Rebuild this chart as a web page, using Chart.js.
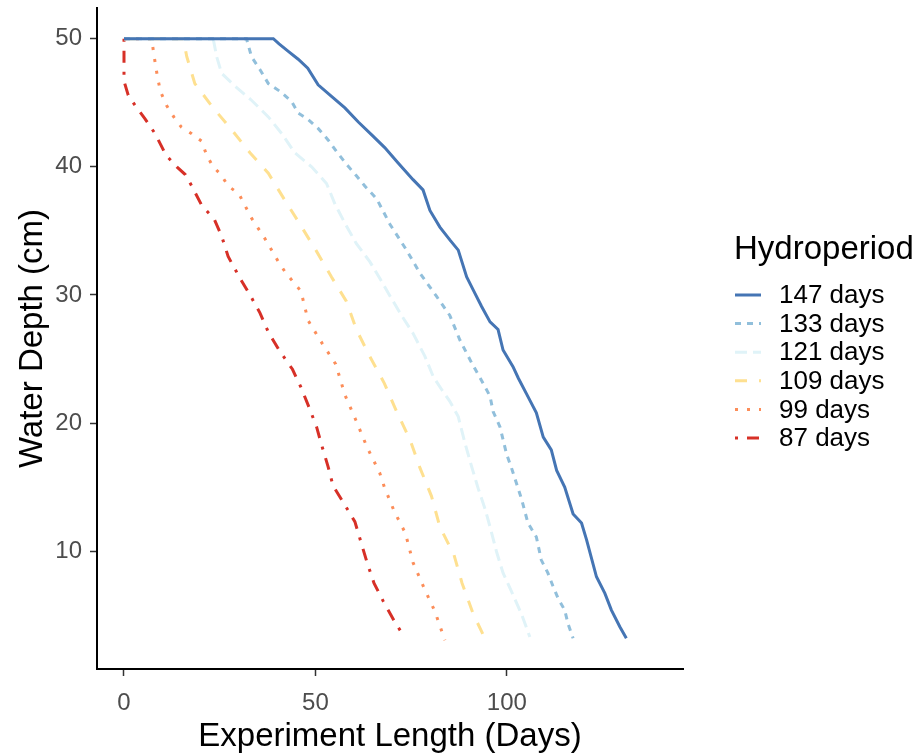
<!DOCTYPE html>
<html>
<head>
<meta charset="utf-8">
<script src="https://cdn.jsdelivr.net/npm/chart.js@4/dist/chart.umd.min.js"></script>
<style>
  html, body { margin: 0; padding: 0; background: #fff; }
  #wrap { width: 920px; height: 753px; }
</style>
</head>
<body>
<div id="wrap"><canvas id="depthChart"></canvas></div>
<script>
// series labels (legend order)
const seriesNames = ['147 days', '133 days', '121 days', '109 days', '99 days', '87 days'];

// day / depth pairs
const days147X = [0, 39, 40.5, 43, 45.5, 48, 50.7, 54.2, 57.7, 61.2, 64.7, 68.1, 71.6, 75.5, 78.1, 79.9, 82.5, 85.1, 87.3, 89.5, 91.2, 93.4, 95.6, 97.7, 99, 101.6, 103, 105.1, 107.7, 109.5, 111.6, 113, 115.1, 117.3, 119.5, 120.8, 123.4, 125.6, 127.3, 129.5, 131.2];
const days147Y = [50, 50, 49.6, 49, 48.4, 47.7, 46.4, 45.5, 44.6, 43.5, 42.5, 41.5, 40.3, 39, 38.2, 36.6, 35.3, 34.3, 33.5, 31.4, 30.4, 29.1, 27.9, 27.3, 25.7, 24.4, 23.5, 22.3, 20.8, 18.9, 17.9, 16.3, 15, 12.9, 12.2, 10.9, 8, 6.7, 5.4, 4.1, 3.2];

const days133X = [0, 32, 33.3, 35.5, 37.7, 40.7, 43.8, 45.5, 48.1, 50.7, 53.3, 55.5, 58.1, 60.7, 62.9, 66, 69.5, 73.8, 77.3, 81.6, 85.1, 87.7, 90.8, 93.6, 95.6, 96.4, 98.2, 99.9, 101.2, 102.5, 103.8, 105.5, 107.7, 109, 110.7, 112, 113.4, 115.1, 116, 117.3];
const days133Y = [50, 50, 48.6, 47.6, 46.5, 45.9, 45.1, 44.2, 43.7, 43, 42.1, 41.2, 40.2, 39.3, 38.5, 37.5, 35.5, 33.5, 31.7, 29.9, 28.4, 26.5, 24.7, 23.2, 22.1, 20.9, 19.7, 17.6, 16.5, 15.3, 14.1, 12.2, 11.1, 9.3, 8.3, 7.3, 6.3, 5.4, 4.3, 3.2];

const days121X = [0, 23.3, 24.2, 25.5, 29, 33.3, 37.7, 41.2, 44.6, 49, 52.9, 55.1, 57.7, 60.7, 64.2, 66.8, 69.7, 72.7, 75.5, 78.6, 80.8, 83, 85.1, 87.3, 89, 90.8, 92.5, 94.3, 95.6, 97.3, 99, 101.6, 103.8, 106];
const days121Y = [50, 50, 48.6, 47.3, 46.3, 45.2, 43.9, 42.6, 41.1, 40, 38.7, 37.1, 35.6, 34, 32.6, 31.3, 29.8, 28.3, 27, 25.2, 23.6, 22.6, 21.7, 20.5, 18.5, 16.6, 14.9, 13.3, 11.9, 9.95, 8.3, 6.6, 5.1, 3.3];

const days109X = [0, 15.5, 16.4, 18.5, 23.3, 28.1, 32.9, 37.7, 42, 46, 50.3, 54.2, 58.1, 60.7, 64.2, 68, 71.2, 74.7, 77.3, 80.3, 82.5, 86.2, 88.3, 91.2, 94.1];
const days109Y = [50, 50, 48.6, 46.5, 44.6, 42.9, 41.1, 39.5, 37.4, 35.5, 33.4, 31.4, 29.5, 27.3, 25.2, 23.1, 20.9, 18.7, 16.5, 14.3, 11.9, 9.7, 7.5, 5.1, 3.3];

const days99X = [0, 7.2, 8.1, 8.7, 9.5, 11.1, 13, 15, 17.6, 20.3, 21.6, 23.3, 25.3, 27.2, 30, 33.3, 36.8, 40.3, 42.3, 46.2, 48.1, 51.8, 55.3, 57.7, 60.6, 63.5, 66.8, 68, 70.6, 73.5, 75.5, 78.4, 81.2, 83.8];
const days99Y = [50, 50, 48.2, 47.1, 45.9, 44.8, 43.9, 43.1, 42.6, 42, 40.9, 40, 39.4, 38.5, 37.9, 36, 34.4, 32.6, 31.7, 30.3, 28, 26.2, 24.6, 22.2, 20.2, 18.1, 16.1, 15, 13.1, 11.4, 9.1, 7.1, 5.3, 3.05];

const days87X = [0, 0, 1.1, 2.9, 5.5, 8.1, 11, 13.8, 16, 17.7, 20.3, 23.6, 25.5, 27.2, 30.3, 33, 35.5, 37.7, 40.7, 44, 46.2, 48.1, 50.3, 51.6, 53.3, 54.6, 57.7, 60.3, 62, 63.5, 65.3, 67.7, 70.5, 73.2];
const days87Y = [50, 46.7, 45.6, 44.8, 43.75, 42.6, 40.9, 40, 39.4, 38.5, 37, 35.9, 34.6, 33, 31.3, 29.95, 28.6, 27.1, 25.6, 24.2, 22.8, 21.4, 19.7, 18.3, 16.6, 15.1, 13.6, 12.3, 10.6, 9.1, 7.5, 6.1, 4.6, 3.3];

const xTicks = [0, 50, 100];
const yTicks = [10, 20, 30, 40, 50];

const seriesX = [days147X, days133X, days121X, days109X, days99X, days87X];
const seriesY = [days147Y, days133Y, days121Y, days109Y, days99Y, days87Y];
const colors = ['#4575b4', '#91bfdb', '#e0f3f8', '#fee090', '#fc8d59', '#d73027'];
// ggplot linetypes: solid, 22, 42, 44, 13, 1343
const dashes = [[], [6, 6], [12, 6], [12, 12], [3, 9], [3, 9, 12, 9]];

const FONT = '"Liberation Sans", Arial, sans-serif';

const datasets = seriesNames.map((name, i) => ({
    label: name,
    data: seriesX[i].map((x, j) => ({ x: x, y: seriesY[i][j] })),
    borderColor: colors[i],
    backgroundColor: colors[i],
    borderWidth: 3,
    borderDash: dashes[i],
    borderCapStyle: 'butt',
    pointRadius: 0,
    showLine: true,
    tension: 0,
    fill: false
}));

// legend drawn by hand to get the ggplot look
const sideLegend = {
    id: 'sideLegend',
    afterDraw(chart) {
        const ctx = chart.ctx;
        ctx.save();
        ctx.fillStyle = '#000';
        ctx.textBaseline = 'middle';
        ctx.textAlign = 'left';
        ctx.font = '33px ' + FONT;
        ctx.fillText('Hydroperiod', 734, 250);
        ctx.font = '26px ' + FONT;
        chart.data.datasets.forEach((ds, i) => {
            const y = 295 + i * 28.6;
            ctx.strokeStyle = ds.borderColor;
            ctx.lineWidth = 3;
            ctx.lineCap = 'butt';
            ctx.setLineDash(ds.borderDash);
            ctx.beginPath();
            ctx.moveTo(735, y);
            ctx.lineTo(761, y);
            ctx.stroke();
            ctx.setLineDash([]);
            ctx.fillStyle = '#000';
            ctx.fillText(ds.label, 779, y + 1);
        });
        ctx.restore();
    }
};

// no extra room for half tick labels at the ends
function noEdgePadding(scale) {
    scale.paddingTop = 0;
    scale.paddingBottom = 0;
    scale.paddingLeft = 0;
    scale.paddingRight = 0;
}

new Chart(document.getElementById('depthChart'), {
    type: 'scatter',
    data: { datasets: datasets },
    options: {
        responsive: true,
        maintainAspectRatio: false,
        animation: false,
        layout: { padding: { top: 8, right: 237, left: 0, bottom: 0 } },
        plugins: {
            legend: { display: false },
            tooltip: { enabled: false }
        },
        scales: {
            x: {
                type: 'linear',
                min: -7.05,
                max: 146,
                afterBuildTicks: (scale) => { scale.ticks = xTicks.map(v => ({ value: v })); },
                afterFit: (scale) => { scale.height = 84; noEdgePadding(scale); },
                border: { color: '#000', width: 2 },
                grid: { drawOnChartArea: false, drawTicks: true, tickLength: 7, tickColor: '#333', tickWidth: 1.5 },
                ticks: { color: '#4d4d4d', font: { family: FONT, size: 24 }, padding: 13 },
                title: { display: true, text: 'Experiment Length (Days)', color: '#000', font: { family: FONT, size: 33, lineHeight: 1 }, padding: 0 }
            },
            y: {
                type: 'linear',
                min: 0.8,
                max: 52.4,
                afterBuildTicks: (scale) => { scale.ticks = yTicks.map(v => ({ value: v })); },
                afterFit: (scale) => { scale.width = 97; noEdgePadding(scale); },
                border: { color: '#000', width: 2 },
                grid: { drawOnChartArea: false, drawTicks: true, tickLength: 7, tickColor: '#333', tickWidth: 1.5 },
                ticks: { color: '#4d4d4d', font: { family: FONT, size: 24 }, padding: 8 },
                title: { display: true, text: 'Water Depth (cm)', color: '#000', font: { family: FONT, size: 33, lineHeight: 1 }, padding: 16 }
            }
        }
    },
    plugins: [sideLegend]
});
</script>
</body>
</html>
